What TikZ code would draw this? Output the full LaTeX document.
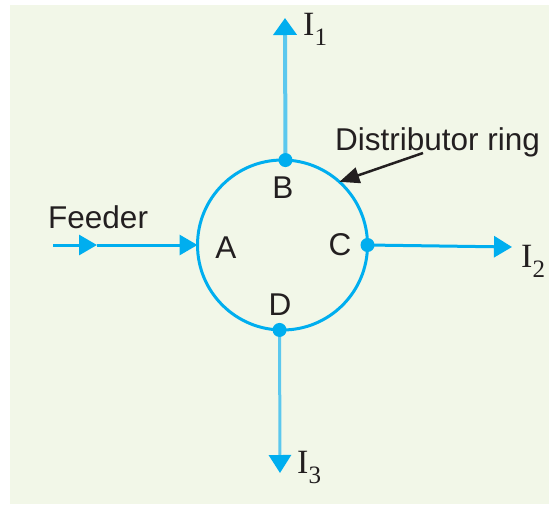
\documentclass[tikz,border=0pt]{standalone}
\usepackage{fontspec}
\setmainfont{Liberation Sans}
\newfontfamily\serifI{Liberation Serif}
\usetikzlibrary{arrows.meta}
\definecolor{bgc}{HTML}{F2F7E8}
\definecolor{cyanb}{HTML}{00AEEF}
\definecolor{cyanl}{HTML}{5CC8EE}
\definecolor{inkc}{HTML}{231F20}
\newcommand{\curlab}[1]{{\serifI\fontsize{34}{34}\selectfont I}\raisebox{-10pt}{\serifI\fontsize{25}{25}\selectfont #1}}
\tikzset{
  lbl/.style={font=\fontsize{31.5}{32}\selectfont, text=inkc, inner sep=0pt, anchor=base},
  curr/.style={text=inkc, inner sep=0pt, anchor=base west},
  wire/.style={draw=cyanb, line width=3pt},
  outarrow/.style={wire, -{Triangle[length=18pt,width=21pt]}},
  dotc/.style={circle, fill=cyanb, minimum size=14pt, inner sep=0pt, outer sep=0pt},
}
\begin{document}
\begin{tikzpicture}[x=1pt,y=-1pt]
\useasboundingbox (0,0) rectangle (549,504);
\fill[white] (0,0) rectangle (549,504);
\fill[bgc] (10,5) rectangle (549,504);
% ring
\node[circle, draw=cyanb, line width=3pt, minimum size=170pt, inner sep=0pt, outer sep=0pt] (ring) at (282.5,245) {};
% points on ring
\coordinate (Bp) at (ring.88.3);
\coordinate (Cp) at (ring.0);
\coordinate (Dp) at (ring.268.3);
\coordinate (i1tip) at (285,18);
\coordinate (i2tip) at (512,247);
\coordinate (i3tip) at (280,473);
\coordinate (fs) at (53,245);
\coordinate (fm) at (97,245);
\coordinate (ptail) at (423,153);
% feeder
\draw[wire, -{Triangle[length=18pt,width=20pt]}] (fs) -- (fm);
\draw[wire, -{Triangle[length=18pt,width=20pt]}] (fm) -- (ring.west);
% outgoing
\draw[wire, draw=cyanl, line width=4pt, -{Triangle[length=17pt,width=23pt,color=cyanb]}] (Bp) -- (i1tip);
\draw[outarrow] (Cp) -- (i2tip);
\draw[wire, draw=cyanl, -{Triangle[length=18pt,width=22pt,color=cyanb]}] (Dp) -- (i3tip);
% dots
\node[dotc] (B) at (Bp) {};
\node[dotc] (C) at (Cp) {};
\node[dotc] (D) at (Dp) {};
% pointer
\draw[inkc, line width=2.5pt, -{Triangle[length=20pt,width=16pt]}] (ptail) -- (ring.48);
% labels
\node[lbl] (lA) at (226,258) {A};
\node[lbl] (lB) at (283,198) {B};
\node[lbl] (lC) at (340,255) {C};
\node[lbl] (lD) at (280,315) {D};
\node[lbl, anchor=base west] (feeder) at (48,228) {Feeder};
\node[lbl, anchor=base west] (dring) at (335,150) {Distributor ring};
\node[curr] (I1) at (303,35) {\curlab{1}};
\node[curr] (I2) at (521,267) {\curlab{2}};
\node[curr] (I3) at (297,473) {\curlab{3}};
\end{tikzpicture}
\end{document}
